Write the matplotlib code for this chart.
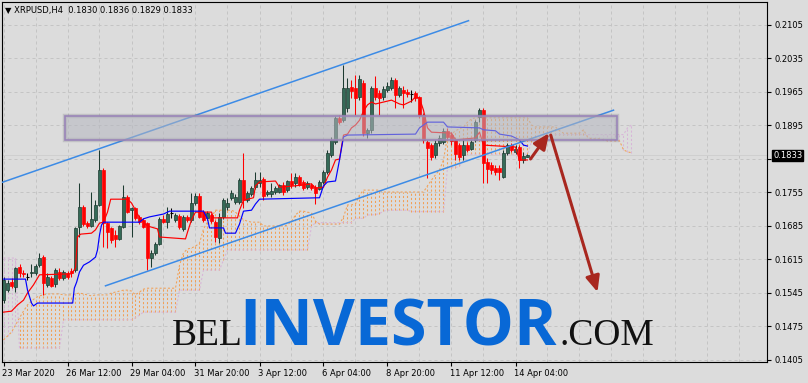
import numpy as np
import matplotlib
matplotlib.use("Agg")
import matplotlib.pyplot as plt
from matplotlib.patches import Rectangle, FancyArrowPatch
import matplotlib.transforms as mtransforms

# ---------------- data ----------------
symbol_header = "XRPUSD,H4  0.1830 0.1836 0.1829 0.1833"
last_price = 0.1833

time_labels = ["23 Mar 2020", "26 Mar 12:00", "29 Mar 04:00", "31 Mar 20:00",
               "3 Apr 12:00", "6 Apr 04:00", "8 Apr 20:00", "11 Apr 12:00", "14 Apr 04:00"]
time_label_bars = [0, 16, 32, 48, 64, 80, 96, 112, 128]
price_ticks = [0.2105, 0.2035, 0.1965, 0.1895, 0.1825, 0.1755,
               0.1685, 0.1615, 0.1545, 0.1475, 0.1405]

opens = [0.1530, 0.1551, 0.1568, 0.1558, 0.1599, 0.1587, 0.1578, 0.1587, 0.1587, 0.1604,
         0.1620, 0.1562, 0.1576, 0.1564, 0.1589, 0.1576, 0.1587, 0.1591, 0.1593, 0.1683,
         0.1725, 0.1691, 0.1685, 0.1698, 0.1729, 0.1802, 0.1691, 0.1681, 0.1666, 0.1658,
         0.1683, 0.1746, 0.1718, 0.1723, 0.1704, 0.1698, 0.1691, 0.1618, 0.1629, 0.1647,
         0.1700, 0.1693, 0.1712, 0.1698, 0.1706, 0.1679, 0.1704, 0.1698, 0.1733, 0.1748,
         0.1714, 0.1702, 0.1708, 0.1693, 0.1660, 0.1704, 0.1725, 0.1744, 0.1735, 0.1735,
         0.1781, 0.1739, 0.1752, 0.1766, 0.1775, 0.1783, 0.1752, 0.1752, 0.1756, 0.1756,
         0.1771, 0.1760, 0.1779, 0.1775, 0.1787, 0.1777, 0.1766, 0.1771, 0.1766, 0.1762,
         0.1777, 0.1798, 0.1833, 0.1861, 0.1911, 0.1906, 0.1932, 0.1975, 0.1973, 0.1955,
         0.1984, 0.1879, 0.1886, 0.1973, 0.1963, 0.1955, 0.1969, 0.1973, 0.1990, 0.1959,
         0.1969, 0.1965, 0.1961, 0.1963, 0.1955, 0.1917, 0.1861, 0.1854, 0.1833, 0.1858,
         0.1861, 0.1884, 0.1875, 0.1865, 0.1854, 0.1833, 0.1854, 0.1846, 0.1865, 0.1913,
         0.1927, 0.1819, 0.1812, 0.1806, 0.1806, 0.1787, 0.1838, 0.1854, 0.1840, 0.1850,
         0.1823, 0.1830]
highs = [0.1578, 0.1572, 0.1576, 0.1599, 0.1606, 0.1593, 0.1587, 0.1606, 0.1606, 0.1629,
         0.1624, 0.1587, 0.1581, 0.1597, 0.1597, 0.1593, 0.1591, 0.1597, 0.1683, 0.1775,
         0.1729, 0.1695, 0.1756, 0.1739, 0.1844, 0.1806, 0.1693, 0.1683, 0.1677, 0.1687,
         0.1771, 0.1750, 0.1725, 0.1725, 0.1708, 0.1702, 0.1693, 0.1635, 0.1652, 0.1704,
         0.1708, 0.1725, 0.1723, 0.1712, 0.1710, 0.1708, 0.1708, 0.1754, 0.1754, 0.1754,
         0.1718, 0.1716, 0.1712, 0.1698, 0.1712, 0.1744, 0.1744, 0.1760, 0.1752, 0.1785,
         0.1838, 0.1758, 0.1769, 0.1798, 0.1798, 0.1787, 0.1760, 0.1775, 0.1769, 0.1773,
         0.1777, 0.1781, 0.1796, 0.1796, 0.1792, 0.1781, 0.1779, 0.1775, 0.1771, 0.1781,
         0.1802, 0.1844, 0.1871, 0.1915, 0.1917, 0.2021, 0.1994, 0.1990, 0.2001, 0.2001,
         0.1990, 0.1890, 0.1978, 0.1998, 0.1969, 0.1978, 0.1986, 0.1996, 0.1994, 0.1978,
         0.1978, 0.1971, 0.1969, 0.1967, 0.1957, 0.1921, 0.1865, 0.1858, 0.1865, 0.1875,
         0.1890, 0.1890, 0.1881, 0.1869, 0.1858, 0.1865, 0.1861, 0.1865, 0.1906, 0.1932,
         0.1932, 0.1827, 0.1819, 0.1812, 0.1812, 0.1844, 0.1858, 0.1858, 0.1854, 0.1854,
         0.1840, 0.1836]
lows = [0.1524, 0.1547, 0.1555, 0.1547, 0.1578, 0.1578, 0.1572, 0.1578, 0.1583, 0.1599,
        0.1541, 0.1558, 0.1558, 0.1558, 0.1572, 0.1572, 0.1574, 0.1578, 0.1589, 0.1662,
        0.1685, 0.1681, 0.1683, 0.1693, 0.1727, 0.1641, 0.1639, 0.1649, 0.1641, 0.1656,
        0.1681, 0.1712, 0.1662, 0.1698, 0.1689, 0.1681, 0.1593, 0.1599, 0.1624, 0.1645,
        0.1691, 0.1681, 0.1702, 0.1693, 0.1679, 0.1675, 0.1693, 0.1693, 0.1729, 0.1702,
        0.1693, 0.1698, 0.1691, 0.1652, 0.1649, 0.1700, 0.1718, 0.1739, 0.1731, 0.1731,
        0.1723, 0.1735, 0.1748, 0.1762, 0.1766, 0.1739, 0.1748, 0.1746, 0.1752, 0.1754,
        0.1750, 0.1756, 0.1764, 0.1766, 0.1769, 0.1760, 0.1762, 0.1760, 0.1731, 0.1760,
        0.1773, 0.1794, 0.1829, 0.1856, 0.1898, 0.1902, 0.1923, 0.1952, 0.1917, 0.1948,
        0.1873, 0.1869, 0.1879, 0.1948, 0.1917, 0.1948, 0.1965, 0.1969, 0.1932, 0.1955,
        0.1932, 0.1955, 0.1944, 0.1946, 0.1911, 0.1858, 0.1785, 0.1823, 0.1827, 0.1852,
        0.1856, 0.1865, 0.1854, 0.1823, 0.1823, 0.1823, 0.1840, 0.1844, 0.1861, 0.1902,
        0.1775, 0.1775, 0.1794, 0.1792, 0.1781, 0.1785, 0.1833, 0.1840, 0.1835, 0.1806,
        0.1817, 0.1829]
closes = [0.1572, 0.1566, 0.1560, 0.1597, 0.1587, 0.1585, 0.1578, 0.1589, 0.1601, 0.1618,
          0.1566, 0.1578, 0.1560, 0.1593, 0.1576, 0.1589, 0.1578, 0.1587, 0.1681, 0.1725,
          0.1689, 0.1685, 0.1700, 0.1729, 0.1802, 0.1691, 0.1672, 0.1656, 0.1658, 0.1685,
          0.1746, 0.1714, 0.1723, 0.1702, 0.1693, 0.1683, 0.1618, 0.1629, 0.1647, 0.1700,
          0.1693, 0.1710, 0.1712, 0.1708, 0.1683, 0.1704, 0.1698, 0.1733, 0.1748, 0.1704,
          0.1698, 0.1712, 0.1695, 0.1662, 0.1704, 0.1739, 0.1733, 0.1754, 0.1746, 0.1781,
          0.1739, 0.1754, 0.1764, 0.1781, 0.1781, 0.1748, 0.1756, 0.1758, 0.1764, 0.1771,
          0.1756, 0.1779, 0.1771, 0.1787, 0.1771, 0.1764, 0.1775, 0.1764, 0.1754, 0.1777,
          0.1798, 0.1838, 0.1865, 0.1911, 0.1902, 0.1973, 0.1973, 0.1967, 0.1952, 0.1992,
          0.1879, 0.1886, 0.1973, 0.1955, 0.1952, 0.1971, 0.1978, 0.1990, 0.1959, 0.1973,
          0.1963, 0.1961, 0.1961, 0.1952, 0.1917, 0.1865, 0.1848, 0.1829, 0.1858, 0.1869,
          0.1884, 0.1871, 0.1863, 0.1835, 0.1829, 0.1854, 0.1844, 0.1861, 0.1902, 0.1927,
          0.1817, 0.1804, 0.1802, 0.1798, 0.1798, 0.1838, 0.1854, 0.1844, 0.1846, 0.1823,
          0.1831, 0.1833]

# Ichimoku lines (bar index, price)
tenkan_bars = [0, 2, 3.5, 5, 6, 7.5, 9, 17, 18, 18.5, 19.3, 22, 23, 24, 25, 26, 26.8, 31, 32, 33,
               34, 35, 36, 38.5, 39, 45.5, 46, 47, 48, 52, 52.5, 58.5, 59, 60, 62.5, 63, 64, 68, 69, 73,
               77, 78, 80, 81, 82, 83, 84, 85, 86, 87, 88, 89, 90, 91, 92, 93, 95, 97, 99, 100,
               102, 103, 104, 105, 106, 107, 112, 113, 118, 119, 120, 128, 129, 131]
tenkan_vals = [0.1505, 0.1507, 0.1520, 0.1530, 0.1545, 0.1562, 0.1583, 0.1585, 0.1597, 0.1662,
               0.1668, 0.1670, 0.1677, 0.1691, 0.1693, 0.1714, 0.1741, 0.1741, 0.1733, 0.1718,
               0.1702, 0.1693, 0.1685, 0.1679, 0.1662, 0.1658, 0.1672, 0.1698, 0.1714, 0.1714,
               0.1702, 0.1702, 0.1718, 0.1739, 0.1744, 0.1769, 0.1777, 0.1779, 0.1766, 0.1769,
               0.1773, 0.1764, 0.1766, 0.1787, 0.1802, 0.1823, 0.1825, 0.1875, 0.1877, 0.1890,
               0.1896, 0.1906, 0.1925, 0.1938, 0.1944, 0.1940, 0.1944, 0.1948, 0.1940, 0.1938,
               0.1946, 0.1955, 0.1952, 0.1927, 0.1890, 0.1881, 0.1879, 0.1865, 0.1869, 0.1881,
               0.1854, 0.1850, 0.1823, 0.1823]
kijun_bars = [0, 5.5, 6, 7, 7.5, 8.5, 17.3, 17.7, 18.3, 19, 20, 21.5, 23, 23.5, 24, 24.5, 25, 34, 35, 36.5,
              40, 41.5, 50, 51, 51.5, 55, 55.5, 58, 59, 60, 62, 63, 64, 79, 80, 81, 83, 84, 85, 86,
              103, 104, 105, 106, 110, 111, 119, 120, 123, 124, 127, 129, 130, 131]
kijun_vals = [0.1574, 0.1574, 0.1551, 0.1524, 0.1518, 0.1524, 0.1524, 0.1555, 0.1568, 0.1589,
              0.1603, 0.1610, 0.1620, 0.1635, 0.1666, 0.1687, 0.1693, 0.1693, 0.1700, 0.1704,
              0.1710, 0.1716, 0.1716, 0.1700, 0.1681, 0.1681, 0.1670, 0.1670, 0.1689, 0.1716,
              0.1718, 0.1731, 0.1741, 0.1744, 0.1769, 0.1777, 0.1779, 0.1823, 0.1871, 0.1875,
              0.1877, 0.1890, 0.1896, 0.1902, 0.1902, 0.1892, 0.1890, 0.1886, 0.1884, 0.1877,
              0.1873, 0.1865, 0.1854, 0.1852]

span_a = [0.1447, 0.1455, 0.1463, 0.1478, 0.1493, 0.1507, 0.1520, 0.1528, 0.1535, 0.1539,
          0.1541, 0.1543, 0.1543, 0.1543, 0.1543, 0.1541, 0.1541, 0.1541, 0.1543, 0.1545,
          0.1543, 0.1541, 0.1539, 0.1541, 0.1541, 0.1541, 0.1541, 0.1545, 0.1547, 0.1549,
          0.1551, 0.1551, 0.1549, 0.1541, 0.1547, 0.1553, 0.1555, 0.1555, 0.1555, 0.1555,
          0.1555, 0.1555, 0.1555, 0.1555, 0.1603, 0.1629, 0.1637, 0.1639, 0.1643, 0.1649,
          0.1679, 0.1693, 0.1704, 0.1718, 0.1718, 0.1718, 0.1718, 0.1718, 0.1714, 0.1706,
          0.1698, 0.1695, 0.1693, 0.1693, 0.1693, 0.1685, 0.1685, 0.1685, 0.1685, 0.1685,
          0.1685, 0.1687, 0.1695, 0.1708, 0.1716, 0.1716, 0.1714, 0.1712, 0.1695, 0.1689,
          0.1689, 0.1689, 0.1689, 0.1689, 0.1689, 0.1704, 0.1729, 0.1729, 0.1731, 0.1750,
          0.1760, 0.1760, 0.1760, 0.1760, 0.1760, 0.1756, 0.1756, 0.1756, 0.1756, 0.1756,
          0.1756, 0.1756, 0.1756, 0.1756, 0.1756, 0.1756, 0.1769, 0.1781, 0.1792, 0.1802,
          0.1823, 0.1873, 0.1877, 0.1884, 0.1888, 0.1892, 0.1902, 0.1909, 0.1911, 0.1911,
          0.1911, 0.1911, 0.1911, 0.1911, 0.1911, 0.1911, 0.1911, 0.1911, 0.1911, 0.1911,
          0.1911, 0.1911, 0.1896, 0.1892, 0.1892, 0.1892, 0.1892, 0.1892, 0.1892, 0.1884,
          0.1879, 0.1879, 0.1879, 0.1879, 0.1879, 0.1886, 0.1871, 0.1867, 0.1867, 0.1867,
          0.1865, 0.1863, 0.1863, 0.1863, 0.1863, 0.1844, 0.1840, 0.1838]
span_b = [0.1618, 0.1618, 0.1618, 0.1618, 0.1430, 0.1430, 0.1430, 0.1430, 0.1430, 0.1430,
          0.1430, 0.1430, 0.1430, 0.1430, 0.1430, 0.1489, 0.1489, 0.1489, 0.1489, 0.1489,
          0.1489, 0.1489, 0.1489, 0.1489, 0.1489, 0.1489, 0.1489, 0.1489, 0.1489, 0.1489,
          0.1489, 0.1489, 0.1489, 0.1493, 0.1499, 0.1505, 0.1505, 0.1505, 0.1505, 0.1505,
          0.1505, 0.1505, 0.1505, 0.1505, 0.1551, 0.1551, 0.1551, 0.1551, 0.1551, 0.1551,
          0.1593, 0.1593, 0.1593, 0.1593, 0.1593, 0.1614, 0.1635, 0.1635, 0.1635, 0.1635,
          0.1635, 0.1635, 0.1635, 0.1635, 0.1635, 0.1635, 0.1635, 0.1635, 0.1635, 0.1635,
          0.1635, 0.1635, 0.1635, 0.1635, 0.1635, 0.1635, 0.1635, 0.1684, 0.1692, 0.1692,
          0.1692, 0.1692, 0.1692, 0.1692, 0.1692, 0.1692, 0.1692, 0.1692, 0.1701, 0.1701,
          0.1701, 0.1708, 0.1708, 0.1709, 0.1711, 0.1716, 0.1718, 0.1718, 0.1718, 0.1718,
          0.1718, 0.1718, 0.1715, 0.1715, 0.1715, 0.1715, 0.1715, 0.1715, 0.1715, 0.1715,
          0.1715, 0.1807, 0.1807, 0.1807, 0.1810, 0.1823, 0.1833, 0.1835, 0.1835, 0.1835,
          0.1835, 0.1835, 0.1835, 0.1835, 0.1835, 0.1835, 0.1835, 0.1835, 0.1835, 0.1835,
          0.1835, 0.1835, 0.1861, 0.1870, 0.1872, 0.1872, 0.1872, 0.1872, 0.1876, 0.1876,
          0.1876, 0.1876, 0.1876, 0.1876, 0.1876, 0.1876, 0.1876, 0.1876, 0.1876, 0.1876,
          0.1876, 0.1876, 0.1876, 0.1876, 0.1876, 0.1876, 0.1890, 0.1896]

# drawn objects (bar index, price)
channel_upper_bars = [-0.75, 116.25]
channel_upper_prices = [0.1775, 0.2114]
channel_lower_bars = [25.5, 152.5]
channel_lower_prices = [0.1560, 0.1927]
zone_bars = [15.25, 153.5]
zone_prices = [0.1865, 0.1915]
arrow_up = [(131.75, 0.1825), (136.4, 0.1879)]
arrow_down = [(136.8, 0.1875), (148.5, 0.1547)]

# ---------------- style ----------------
BG = "#dcdcdc"
GRID = "#c4c4c4"
BULL_FACE = "#356a57"
BULL_EDGE = "#1d3b31"
BEAR = "#ff0000"
SPAN_A_COL = "#f2a055"
SPAN_B_COL = "#d8b4d8"

plt.rcParams["font.family"] = ["DejaVu Sans"]

fig = plt.figure(figsize=(8.08, 3.83), dpi=100)
fig.patch.set_facecolor(BG)
ax = fig.add_axes([2 / 808, 21 / 383, 765 / 808, 360 / 383])
ax.set_facecolor(BG)
ax.set_xlim(-0.375, 190.875)
ax.set_ylim(0.14008, 0.215306)

# grid
for b in range(0, 192, 8):
    ax.axvline(b, color=GRID, lw=0.72, ls=(0, (3, 3)), zorder=0.5)
for p in price_ticks:
    ax.axhline(p, color=GRID, lw=0.72, ls=(0, (3, 3)), zorder=0.5)

# bid line
ax.axhline(last_price, color="#cfcfcf", lw=0.7, zorder=0.6)

# cloud hatch
xa = np.arange(len(span_a))
sa = np.array(span_a)
sb = np.array(span_b)
up = sa >= sb
ax.vlines(xa[up], sb[up], sa[up], colors=SPAN_A_COL, lw=0.75, linestyles=(0, (2, 2)), zorder=1)
ax.vlines(xa[~up], sa[~up], sb[~up], colors=SPAN_B_COL, lw=0.75, linestyles=(0, (2, 2)), zorder=1)
ax.plot(xa, sa, color=SPAN_A_COL, lw=0.75, ls=(0, (2, 2)), zorder=1.2)
ax.plot(xa, sb, color=SPAN_B_COL, lw=0.75, ls=(0, (2, 2)), zorder=1.2)

# candles
o = np.array(opens); h = np.array(highs); l = np.array(lows); c = np.array(closes)
xb = np.arange(len(o))
bull = c > o
bear = c < o
doji = c == o
ax.vlines(xb[bull], l[bull], h[bull], colors=BULL_EDGE, lw=0.75, zorder=2)
ax.vlines(xb[bear], l[bear], h[bear], colors=BEAR, lw=0.75, zorder=2)
ax.vlines(xb[doji], l[doji], h[doji], colors="black", lw=0.75, zorder=2)
ax.bar(xb[bull], (c - o)[bull], bottom=o[bull], width=0.75, color=BULL_FACE,
       edgecolor=BULL_EDGE, lw=0.5, zorder=2.2)
ax.bar(xb[bear], (o - c)[bear], bottom=c[bear], width=0.75, color=BEAR,
       edgecolor=BEAR, lw=0.5, zorder=2.2)
ax.hlines(c[doji], xb[doji] - 0.4, xb[doji] + 0.4, colors="black", lw=0.8, zorder=2.2)

# tenkan / kijun
ax.plot(tenkan_bars, tenkan_vals, color="#ff0000", lw=0.85, zorder=3)
ax.plot(kijun_bars, kijun_vals, color="#0000ff", lw=0.85, zorder=3)

# channel
ax.plot(channel_upper_bars, channel_upper_prices, color="#3c8be6", lw=1.1, zorder=3.5)
ax.plot(channel_lower_bars, channel_lower_prices, color="#3c8be6", lw=1.1, zorder=3.5)

# zone rectangle
zw = zone_bars[1] - zone_bars[0]
zh = zone_prices[1] - zone_prices[0]
ax.add_patch(Rectangle((zone_bars[0], zone_prices[0]), zw, zh, facecolor="none",
                       edgecolor=(0.45, 0.45, 0.5, 0.25), lw=3.2, zorder=4.8))
ax.add_patch(Rectangle((zone_bars[0], zone_prices[0]), zw, zh,
                       facecolor=(0.71, 0.715, 0.75, 0.55), edgecolor="#9a84b8",
                       lw=1.2, zorder=5))

# arrows
for (p0, p1) in (arrow_up, arrow_down):
    ax.add_patch(FancyArrowPatch(p0, p1, arrowstyle="-|>,head_length=0.95,head_width=0.42",
                                 mutation_scale=10, color="#a8271f", lw=2.2,
                                 shrinkA=0, shrinkB=0, zorder=6))

# axes styling
for s in ax.spines.values():
    s.set_color("black")
    s.set_linewidth(0.8)
ax.yaxis.tick_right()
ax.set_yticks(price_ticks)
ax.set_yticklabels([f"{p:.4f}" for p in price_ticks])
ax.tick_params(axis="y", direction="out", length=3, width=0.8, pad=2.5, labelsize=6)
ax.set_xticks(time_label_bars)
ax.set_xticklabels(time_labels, ha="left")
ax.tick_params(axis="x", direction="out", length=3, width=0.8, pad=2, labelsize=6)
shift = mtransforms.ScaledTranslation(-1.5 / 100, 0, fig.dpi_scale_trans)
for lbl in ax.get_xticklabels():
    lbl.set_transform(lbl.get_transform() + shift)

# last price label
trans = mtransforms.blended_transform_factory(ax.transAxes, ax.transData)
ax.text(1 + 6 / 765, last_price, f"{last_price:.4f}", transform=trans, fontsize=6,
        color="white", va="center", ha="left", clip_on=False, zorder=10,
        bbox=dict(boxstyle="square,pad=0.12", fc="black", ec="black"))

# header
fig.text(5 / 808, 1 - 11 / 383, "\u25BC " + symbol_header, fontsize=6, va="center",
         ha="left", color="black")

# watermark
base_y = (383 - 345) / 383
fig.text(172 / 808, base_y, "BEL", fontsize=27, family="Liberation Serif",
         color="#111111", va="baseline", ha="left", zorder=20)
fig.text(239 / 808, base_y, "INVESTOR", fontsize=46.5, family="Open Sans",
         fontweight="bold", color="#0868d6", va="baseline", ha="left", zorder=20)
fig.text(559 / 808, base_y, ".COM", fontsize=27, family="Liberation Serif",
         color="#111111", va="baseline", ha="left", zorder=20)

fig.savefig("out.png", dpi=100, facecolor=BG)
